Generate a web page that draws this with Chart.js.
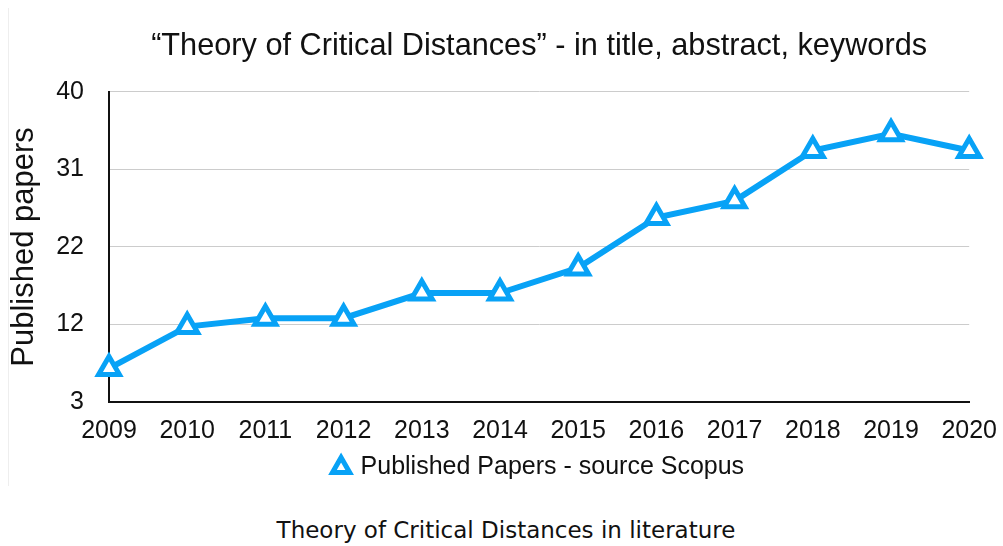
<!DOCTYPE html>
<html>
<head>
<meta charset="utf-8">
<script src="https://cdn.jsdelivr.net/npm/chart.js@4.4.0/dist/chart.umd.min.js"></script>
<style>
  html, body { margin: 0; padding: 0; background: #fff; }
  #wrap { position: absolute; left: 0; top: 0; width: 1003px; height: 490px; }
  #edge { position: absolute; left: 8px; top: 8px; width: 1px; height: 478px; background: #eeeeee; }
  #caption {
    position: absolute; left: 0; top: 517px; width: 1012px; text-align: center;
    font-family: "DejaVu Sans", sans-serif; font-size: 23px; color: #111;
  }
</style>
</head>
<body>
<div id="edge"></div>
<div id="wrap"><canvas id="chart"></canvas></div>
<div id="caption">Theory of Critical Distances in literature</div>
<script>
const years = ["2009", "2010", "2011", "2012", "2013", "2014", "2015", "2016", "2017", "2018", "2019", "2020"];
const papers = [7, 12, 13, 13, 16, 16, 19, 25, 27, 33, 35, 33];
const yTickLabels = ["3", "12", "22", "31", "40"];

const blue = "#08a2f6";
const font = "'Liberation Sans', Arial, Helvetica, sans-serif";

new Chart(document.getElementById("chart"), {
  type: "line",
  data: {
    labels: years,
    datasets: [
      {
        label: "Published Papers - source Scopus",
        data: papers,
        borderColor: blue,
        borderWidth: 6,
        backgroundColor: "#ffffff",
        pointStyle: "triangle",
        pointRadius: 12,
        pointBorderWidth: 5,
        pointBackgroundColor: "#ffffff",
        pointBorderColor: blue,
        tension: 0,
      },
    ],
  },
  options: {
    responsive: true,
    maintainAspectRatio: false,
    animation: false,
    layout: { padding: { left: 0, right: -3, top: 0, bottom: 0 } },
    plugins: {
      title: {
        display: true,
        fullSize: false,
        text: "\u201cTheory of Critical Distances\u201d - in title, abstract, keywords",
        color: "#111",
        font: { family: font, size: 30.7, weight: "normal" },
        padding: { top: 28, bottom: 27 },
      },
      legend: {
        position: "bottom",
        fullSize: false,
        labels: {
          usePointStyle: true,
          pointStyle: "triangle",
          color: "#111",
          font: { family: font, size: 25 },
          boxWidth: 14,
          boxHeight: 14,
          padding: 10,
        },
      },
      tooltip: { enabled: false },
    },
    scales: {
      x: {
        grid: { display: false },
        border: { color: "#111", width: 2 },
        offset: false,
        afterFit: (scale) => {
          scale.height = 43;
        },
        ticks: {
          color: "#111",
          font: { family: font, size: 25 },
          padding: 6,
          maxRotation: 0,
          autoSkip: false,
        },
      },
      y: {
        min: 3,
        max: 40,
        afterBuildTicks: (axis) => {
          axis.ticks = yTickLabels.map((t, i) => ({ value: 3 + i * 9.25 }));
        },
        afterFit: (scale) => {
          scale.width = 109;
        },
        grid: { color: "#cccccc", lineWidth: 1, tickLength: 0 },
        border: { color: "#111", width: 2 },
        ticks: {
          color: "#111",
          font: { family: font, size: 25 },
          padding: 25,
          callback: (v, i) => yTickLabels[i],
        },
        title: {
          display: true,
          text: "Published papers",
          color: "#111",
          font: { family: font, size: 31 },
          padding: { top: 6, bottom: 0 },
        },
      },
    },
  },
});
</script>
</body>
</html>
